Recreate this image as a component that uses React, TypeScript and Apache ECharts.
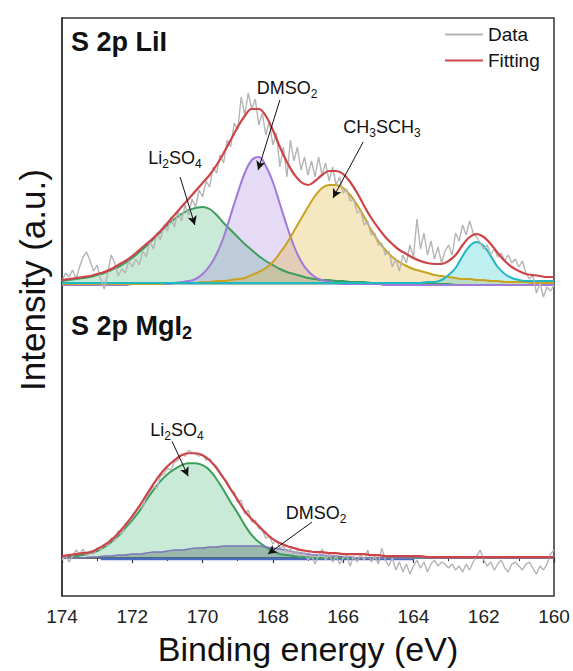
import React, { useEffect, useRef } from "react";
import * as echarts from "echarts";

// ---- energy sampling (eV), from high to low binding energy ----
const E_HIGH = 174;
const FIT_STEP = 0.2; // 71 points
const DATA_STEP = 0.1; // 141 points
const X_MIN = 160;
const X_MAX = 174;
const X_INTERVAL = 2;

// ---- S 2p LiI (upper panel), intensities above its own baseline ----
const U_DATA = [
  4, 12, 8, 15, 6, 18, 28, 33, 24, 14,
  20, 6, -4, 12, 30, 22, 9, 16, 12, 24,
  18, 26, 20, 34, 28, 44, 36, 52, 45, 60,
  54, 68, 58, 74, 64, 80, 70, 86, 78, 95,
  88, 104, 98, 118, 112, 130, 122, 145, 138, 162,
  155, 188, 170, 192, 176, 186, 160, 172, 150, 164,
  140, 152, 118, 138, 108, 145, 124, 138, 115, 128,
  110, 124, 108, 128, 110, 122, 104, 118, 100, 108,
  92, 96, 84, 86, 72, 74, 60, 64, 50, 52,
  40, 42, 30, 34, 18, 26, 14, 30, 22, 40,
  28, 66, 36, 52, 30, 44, 26, 38, 22, 34,
  40, 30, 52, 44, 60, 50, 64, 52, 48, 42,
  36, 40, 30, 36, 28, 32, 24, 30, 22, 26,
  18, 24, 12, 6, 10, -8, 2, -12, -2, -6,
  0,
];
const U_FIT = [
  5, 6, 7, 8, 9, 11, 13, 16, 20, 24,
  29, 35, 41, 47, 54, 62, 70, 78, 86, 94,
  102, 110, 120, 132, 145, 158, 169, 176, 176, 169,
  155, 138, 123, 111, 103, 100, 104, 110, 114, 114,
  111, 103, 92, 79, 67, 57, 48, 41, 35, 31,
  27, 24, 22, 21, 21, 24, 30, 40, 48, 51,
  48, 41, 32, 24, 18, 14, 11, 10, 9, 8, 8,
];
const U_LI2SO4 = [
  4, 5, 6, 7, 8, 10, 12, 15, 18, 22,
  27, 33, 39, 46, 53, 60, 66, 71, 75, 77,
  78, 76, 70, 62, 55, 48, 41, 35, 29, 24,
  20, 16, 13, 11, 9, 7, 6, 5, 5, 4,
  4, 3, 3, 3, 2, 2, 2, 2, 1, 1,
  1, 1, 1, 1, 1, 1, 0, 0, 0, 0,
  0, 0, 0, 0, 0, 0, 0, 0, 0, 0, 0,
];
const U_DMSO2 = [
  0, 0, 0, 0, 0, 0, 0, 0, 0, 0,
  1, 1, 1, 1, 1, 1, 2, 3, 4, 6,
  11, 19, 31, 48, 70, 92, 112, 125, 128, 119,
  103, 81, 59, 39, 24, 14, 8, 5, 3, 2,
  1, 1, 1, 1, 1, 1, 0, 0, 0, 0,
  0, 0, 0, 0, 0, 0, 0, 0, 0, 0,
  0, 0, 0, 0, 0, 0, 0, 0, 0, 0, 0,
];
const U_CH3SCH3 = [
  1, 1, 1, 1, 1, 1, 1, 1, 1, 1,
  1, 1, 1, 1, 1, 2, 2, 2, 2, 2,
  3, 3, 4, 4, 5, 6, 7, 10, 13, 17,
  23, 32, 42, 54, 66, 78, 89, 97, 100, 100,
  97, 90, 80, 68, 55, 44, 35, 28, 23, 19,
  16, 14, 12, 10, 9, 8, 7, 6, 6, 5,
  5, 4, 4, 3, 3, 3, 3, 2, 2, 2, 2,
];
const U_LOW_BE = [
  2, 2, 2, 2, 2, 2, 2, 2, 2, 2,
  2, 2, 2, 2, 2, 2, 2, 2, 2, 2,
  2, 2, 2, 2, 2, 2, 2, 2, 2, 2,
  2, 2, 2, 2, 2, 2, 2, 2, 2, 2,
  2, 2, 2, 2, 2, 2, 2, 2, 2, 2,
  2, 2, 3, 3, 5, 10, 17, 29, 39, 43,
  39, 29, 18, 11, 7, 5, 4, 4, 4, 4, 4,
];

// ---- S 2p MgI2 (lower panel) ----
const L_DATA = [
  -2, 3, -4, 2, 8, 4, 9, 2, 6, 4,
  10, 8, 14, 12, 20, 17, 27, 24, 34, 36,
  40, 46, 52, 50, 62, 66, 72, 70, 82, 84,
  90, 88, 96, 98, 104, 102, 108, 106, 104, 102,
  104, 98, 100, 94, 92, 84, 80, 76, 68, 66,
  56, 58, 44, 48, 36, 38, 30, 28, 20, 22,
  14, 18, 10, 12, 6, 9, 4, 7, 2, 6,
  -2, 3, -6, 2, 9, -2, 4, -4, 2, -6,
  0, 3, -8, 2, -4, 4, -2, 8, -4, 2,
  -6, 10, -2, -8, 0, -12, -4, -14, -6, -16,
  -8, -2, -10, -4, -14, -6, -2, -8, -4, -6,
  -10, -6, -12, -8, -14, -6, -12, -4, 2, 8,
  -2, -8, -4, -12, -6, -2, -10, -14, -6, -4,
  -8, -12, -6, -4, -10, -16, -8, -12, -6, 4,
  8,
];
const L_FIT = [
  2, 3, 4, 5, 6, 9, 13, 18, 25, 33,
  42, 52, 63, 74, 84, 92, 98, 103, 105, 105,
  103, 98, 90, 80, 69, 58, 47, 39, 32, 25,
  19, 15, 12, 10, 8, 7, 6, 6, 5, 5,
  4, 4, 4, 4, 3, 3, 2, 2, 2, 2,
  2, 2, 1, 1, 1, 1, 1, 1, 1, 1,
  1, 1, 1, 1, 1, 1, 1, 1, 1, 1, 1,
];
const L_LI2SO4 = [
  1, 1, 2, 3, 5, 7, 11, 16, 22, 30,
  38, 47, 58, 68, 77, 84, 89, 93, 95, 95,
  93, 88, 79, 68, 56, 45, 33, 23, 16, 11,
  7, 4, 3, 2, 1, 1, 0, 0, 0, 0,
  0, 0, 0, 0, 0, 0, 0, 0, 0, 0,
  0, 0, 0, 0, 0, 0, 0, 0, 0, 0,
  0, 0, 0, 0, 0, 0, 0, 0, 0, 0, 0,
];
const L_DMSO2 = [
  0, 0, 0, 0, 1, 1, 2, 2, 3, 3,
  4, 4, 5, 6, 6, 7, 8, 8, 9, 10,
  10, 11, 11, 12, 12, 12, 12, 12, 12, 11,
  10, 9, 8, 6, 5, 4, 3, 3, 2, 2,
  1, 1, 0, 0, 0, 0, 0, 0, 0, 0,
  0, 0, 0, 0, 0, 0, 0, 0, 0, 0,
  0, 0, 0, 0, 0, 0, 0, 0, 0, 0, 0,
];
const L_BG_E = [172.9, 164.0];
const L_BG = [-1, -1];

const FONT = '"Liberation Sans", Arial, Helvetica, sans-serif';

const grid = (n: number, step: number) =>
  Array.from({ length: n }, (_, i) => Math.round((E_HIGH - i * step) * 100) / 100);
const FIT_E = grid(71, FIT_STEP);
const DATA_E = grid(141, DATA_STEP);
const pts = (E: number[], v: number[]) => v.map((y, i) => [E[i], y]);

const line = (
  name: string,
  E: number[],
  v: number[],
  ax: number,
  color: string,
  width: number,
  fill: string | null,
  smooth: boolean | number,
  z: number,
  extra: any = {}
) => ({
  type: "line",
  name,
  xAxisIndex: ax,
  yAxisIndex: ax,
  data: pts(E, v),
  showSymbol: false,
  symbol: "none",
  smooth,
  silent: true,
  z,
  lineStyle: { color, width },
  itemStyle: { color },
  areaStyle: fill ? { color: fill, origin: "auto" } : undefined,
  emphasis: { disabled: true },
  ...extra,
});

const RICH: any = {
  n: { fontSize: 18, lineHeight: 24, fontFamily: FONT, fill: "#111" },
  s: { fontSize: 12, lineHeight: 10, fontFamily: FONT, fill: "#111", verticalAlign: "bottom" },
  N: { fontSize: 27, fontWeight: "bold", lineHeight: 32, fontFamily: FONT, fill: "#111" },
  S: { fontSize: 18, fontWeight: "bold", lineHeight: 14, fontFamily: FONT, fill: "#111", verticalAlign: "bottom" },
};

const label = (text: string, x: number, y: number, align = "center") => ({
  type: "text",
  x,
  y,
  silent: true,
  style: { text, rich: RICH, align, verticalAlign: "middle", fill: "#111", font: `18px ${FONT}` },
});

const arrows = (list: number[][][]) => ({
  silent: true,
  symbol: ["none", "arrow"],
  symbolSize: [7, 9],
  lineStyle: { color: "#111", width: 1, type: "solid" },
  label: { show: false },
  emphasis: { disabled: true },
  data: list.map(([a, b]) => [{ coord: a }, { coord: b }]),
});

export default function App() {
  const ref = useRef<HTMLDivElement>(null);
  useEffect(() => {
    if (!ref.current) return;
    const chart = echarts.init(ref.current, null, { renderer: "svg" });
    const gridBox = { left: 62, right: 19, top: 18, bottom: 74 };
    const option: any = {
      animation: false,
      backgroundColor: "#fff",
      grid: [
        { ...gridBox },
        { ...gridBox, show: true, borderColor: "#333", borderWidth: 1.5, backgroundColor: "transparent" },
      ],
      legend: {
        selectedMode: false,
        orient: "vertical",
        left: 440,
        top: 20,
        itemWidth: 38,
        itemHeight: 2,
        itemGap: 7,
        icon: "rect",
        textStyle: { fontSize: 19, color: "#111", fontFamily: FONT },
        data: ["Data", "Fitting"],
      },
      xAxis: [
        { gridIndex: 0, type: "value", min: X_MIN, max: X_MAX, inverse: true, show: false },
        {
          gridIndex: 1,
          type: "value",
          min: X_MIN,
          max: X_MAX,
          interval: X_INTERVAL,
          inverse: true,
          name: "Binding energy (eV)",
          nameLocation: "middle",
          nameGap: 36,
          nameTextStyle: { fontSize: 34, fontWeight: "normal", color: "#111", fontFamily: FONT },
          axisLine: { lineStyle: { color: "#333", width: 1.5 } },
          axisTick: { inside: false, length: 5, lineStyle: { color: "#333", width: 1.2 } },
          minorTick: { show: true, splitNumber: 2, length: 3, lineStyle: { color: "#333", width: 1 } },
          splitLine: { show: false },
          axisLabel: { fontSize: 19, color: "#222", fontFamily: FONT, margin: 11 },
        },
      ],
      yAxis: [
        { gridIndex: 0, type: "value", min: -312, max: 267, show: false },
        {
          gridIndex: 1,
          type: "value",
          min: -38,
          max: 541,
          axisLine: { show: true, lineStyle: { color: "#333", width: 1.5 } },
          axisTick: { show: false },
          axisLabel: { show: false },
          splitLine: { show: false },
        },
      ],
      series: [
        line("Li2SO4 (LiI)", FIT_E, U_LI2SO4, 0, "#3d9e5c", 2, "rgba(60,179,113,0.40)", 0.4, 2),
        line("DMSO2 (LiI)", FIT_E, U_DMSO2, 0, "#a07ad8", 2, "rgba(160,120,220,0.38)", 0.4, 2),
        line("CH3SCH3 (LiI)", FIT_E, U_CH3SCH3, 0, "#c9a21f", 2, "rgba(222,172,40,0.42)", 0.4, 2),
        line("162 eV (LiI)", FIT_E, U_LOW_BE, 0, "#1fb8c0", 2, "rgba(40,200,205,0.42)", 0.4, 2),
        line("Data", DATA_E, U_DATA, 0, "#b5b5b5", 1.4, null, false, 3),
        line("Fitting", FIT_E, U_FIT, 0, "#cc4448", 2.2, null, 0.4, 4, {
          markLine: arrows([
            [[170.64, 108], [170.22, 60]],
            [[167.8, 185], [168.42, 115]],
            [[165.43, 143], [166.29, 87]],
          ]),
        }),
        line("Background (MgI2)", L_BG_E, L_BG, 1, "#4a6cc0", 2.5, null, false, 2),
        line("Li2SO4 (MgI2)", FIT_E, L_LI2SO4, 1, "#3d9e5c", 2, "rgba(60,179,113,0.40)", 0.4, 2),
        line("DMSO2 (MgI2)", FIT_E, L_DMSO2, 1, "#7d74b8", 1.5, "rgba(45,80,80,0.45)", 0.4, 2),
        line("Data", DATA_E, L_DATA, 1, "#b5b5b5", 1.4, null, false, 3),
        line("Fitting", FIT_E, L_FIT, 1, "#cc4448", 2.2, null, 0.4, 4, {
          markLine: arrows([
            [[170.87, 117], [170.41, 82]],
            [[166.89, 36], [168.14, 4]],
          ]),
        }),
      ],
      graphic: [
        {
          type: "text",
          x: 32,
          y: 280,
          rotation: Math.PI / 2,
          silent: true,
          style: {
            text: "Intensity (a.u.)",
            font: `35px ${FONT}`,
            fill: "#111",
            align: "center",
            verticalAlign: "middle",
          },
        },
        label("{N|S 2p LiI}", 71, 42, "left"),
        label("{N|S 2p MgI}{S|2}", 71, 326, "left"),
        label("{n|Li}{s|2}{n|SO}{s|4}", 175, 158),
        label("{n|DMSO}{s|2}", 287, 88),
        label("{n|CH}{s|3}{n|SCH}{s|3}", 382, 127),
        label("{n|Li}{s|2}{n|SO}{s|4}", 177, 430),
        label("{n|DMSO}{s|2}", 316, 513),
      ],
    };
    chart.setOption(option);
    return () => chart.dispose();
  }, []);
  return (
    <div
      ref={ref}
      style={{ position: "absolute", left: 0, top: 0, width: 573, height: 671, background: "#fff" }}
    />
  );
}
